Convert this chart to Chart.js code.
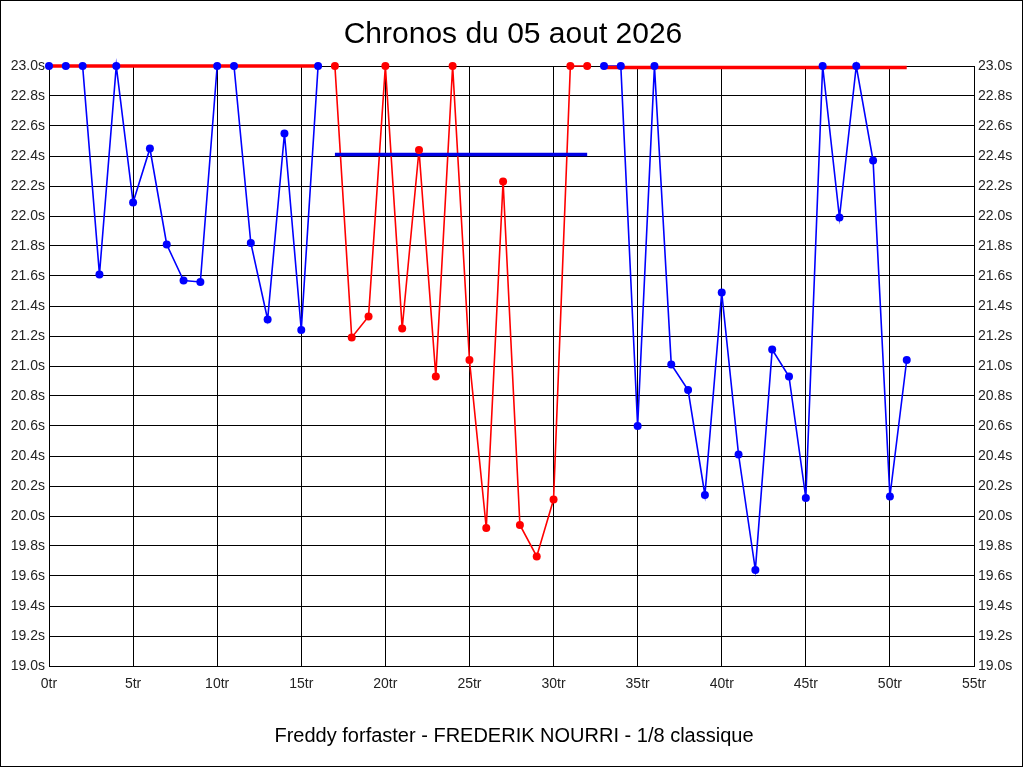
<!DOCTYPE html>
<html lang="fr">
<head>
    <meta charset="UTF-8">
    <title>Chronos du 05 aout 2026</title>
    <script src="https://cdn.jsdelivr.net/npm/chart.js"></script>
    <style>
        html, body {
            margin: 0;
            padding: 0;
            background: white;
        }
        #wrap {
            width: 1024px;
            height: 768px;
        }
    </style>
</head>
<body>
    <div id="wrap"><canvas id="chronoChart" width="1024" height="768"></canvas></div>

    <script>
        // tours 0 a 16
        const lapsA = [0, 1, 2, 3, 4, 5, 6, 7, 8, 9, 10, 11, 12, 13, 14, 15, 16];
        const timesA = [23.0, 23.0, 23.0, 21.61, 23.0, 22.09, 22.45, 21.81, 21.57, 21.56, 23.0, 23.0, 21.82, 21.31, 22.55, 21.24, 23.0];
        // tours 17 a 32
        const lapsB = [17, 18, 19, 20, 21, 22, 23, 24, 25, 26, 27, 28, 29, 30, 31, 32];
        const timesB = [23.0, 21.19, 21.33, 23.0, 21.25, 22.44, 20.93, 23.0, 21.04, 19.92, 22.23, 19.94, 19.73, 20.11, 23.0, 23.0];
        // tours 33 a 51
        const lapsC = [33, 34, 35, 36, 37, 38, 39, 40, 41, 42, 43, 44, 45, 46, 47, 48, 49, 50, 51];
        const timesC = [23.0, 23.0, 20.60, 23.0, 21.01, 20.84, 20.14, 21.49, 20.41, 19.64, 21.11, 20.93, 20.12, 23.0, 21.99, 23.0, 22.37, 20.13, 21.04];

        // lignes de reference par relais
        const refStart = [0, 17, 33];
        const refEnd = [16, 32, 51];
        const refValue = [23.0, 22.41, 22.99];

        const xTicks = [0, 5, 10, 15, 20, 25, 30, 35, 40, 45, 50, 55];
        const yMin = 19.0, yMax = 23.0;

        function points(laps, times) {
            return laps.map((l, i) => ({ x: l, y: times[i] }));
        }

        function refLine(i) {
            return [{ x: refStart[i], y: refValue[i] }, { x: refEnd[i], y: refValue[i] }];
        }

        const FONT = "'Liberation Sans', Arial, sans-serif";

        const frameAndText = {
            id: 'frameAndText',
            afterDraw(chart) {
                const ctx = chart.ctx;
                ctx.save();
                ctx.strokeStyle = '#000';
                ctx.lineWidth = 1;
                ctx.strokeRect(0.5, 0.5, 1022, 766);
                ctx.fillStyle = '#000';
                ctx.textAlign = 'center';
                ctx.textBaseline = 'middle';
                ctx.font = '30px ' + FONT;
                ctx.fillText('Chronos du 05 aout 2026', 513, 35);
                ctx.font = '20px ' + FONT;
                ctx.fillText('Freddy forfaster - FREDERIK NOURRI - 1/8 classique', 514, 736);
                ctx.restore();
            }
        };

        // trait seul, sous les lignes de reference
        const lineSet = (data, color) => ({
            data: data,
            borderColor: color,
            borderWidth: 1.6,
            pointRadius: 0,
            tension: 0,
            clip: 10,
            order: 3
        });

        // points seuls, au-dessus de tout
        const dotSet = (data, color) => ({
            data: data,
            showLine: false,
            backgroundColor: color,
            borderColor: color,
            pointRadius: 4,
            pointBorderWidth: 0,
            pointHoverRadius: 4,
            clip: 10,
            order: 1
        });

        const refSet = (data, color) => ({
            data: data,
            borderColor: color,
            borderWidth: 3.5,
            pointRadius: 0,
            clip: 10,
            order: 2
        });

        const tickFont = { family: FONT, size: 14 };

        new Chart(document.getElementById('chronoChart'), {
            type: 'line',
            data: {
                datasets: [
                    lineSet(points(lapsA, timesA), '#0000FF'),
                    lineSet(points(lapsB, timesB), '#FF0000'),
                    lineSet(points(lapsC, timesC), '#0000FF'),
                    refSet(refLine(0), '#FF0000'),
                    refSet(refLine(1), '#0000E6'),
                    refSet(refLine(2), '#FF0000'),
                    dotSet(points(lapsA, timesA), '#0000FF'),
                    dotSet(points(lapsB, timesB), '#FF0000'),
                    dotSet(points(lapsC, timesC), '#0000FF')
                ]
            },
            options: {
                responsive: false,
                animation: false,
                devicePixelRatio: 1,
                layout: { padding: { top: 66, right: 0, left: 0, bottom: 0 } },
                plugins: {
                    legend: { display: false },
                    tooltip: { enabled: false }
                },
                scales: {
                    x: {
                        type: 'linear',
                        min: 0,
                        max: 55,
                        afterBuildTicks: s => { s.ticks = xTicks.map(v => ({ value: v })); },
                        afterFit: s => { s.height = 102; },
                        grid: { color: '#000', lineWidth: 1, drawTicks: false },
                        border: { color: '#000' },
                        ticks: {
                            font: tickFont,
                            color: '#222',
                            padding: 10,
                            maxRotation: 0,
                            autoSkip: false,
                            callback: v => v + 'tr'
                        }
                    },
                    y: {
                        position: 'left',
                        min: yMin,
                        max: yMax,
                        afterFit: s => { s.width = 49; },
                        grid: { color: '#000', lineWidth: 1, drawTicks: false },
                        border: { color: '#000' },
                        ticks: {
                            stepSize: 0.2,
                            font: tickFont,
                            color: '#222',
                            padding: 4,
                            autoSkip: false,
                            callback: v => Number(v).toFixed(1) + 's'
                        }
                    },
                    y2: {
                        position: 'right',
                        min: yMin,
                        max: yMax,
                        afterFit: s => { s.width = 50; },
                        grid: { display: false, drawTicks: false },
                        border: { color: '#000' },
                        ticks: {
                            stepSize: 0.2,
                            font: tickFont,
                            color: '#222',
                            padding: 4,
                            autoSkip: false,
                            callback: v => Number(v).toFixed(1) + 's'
                        }
                    }
                }
            },
            plugins: [frameAndText]
        });
    </script>
</body>
</html>
